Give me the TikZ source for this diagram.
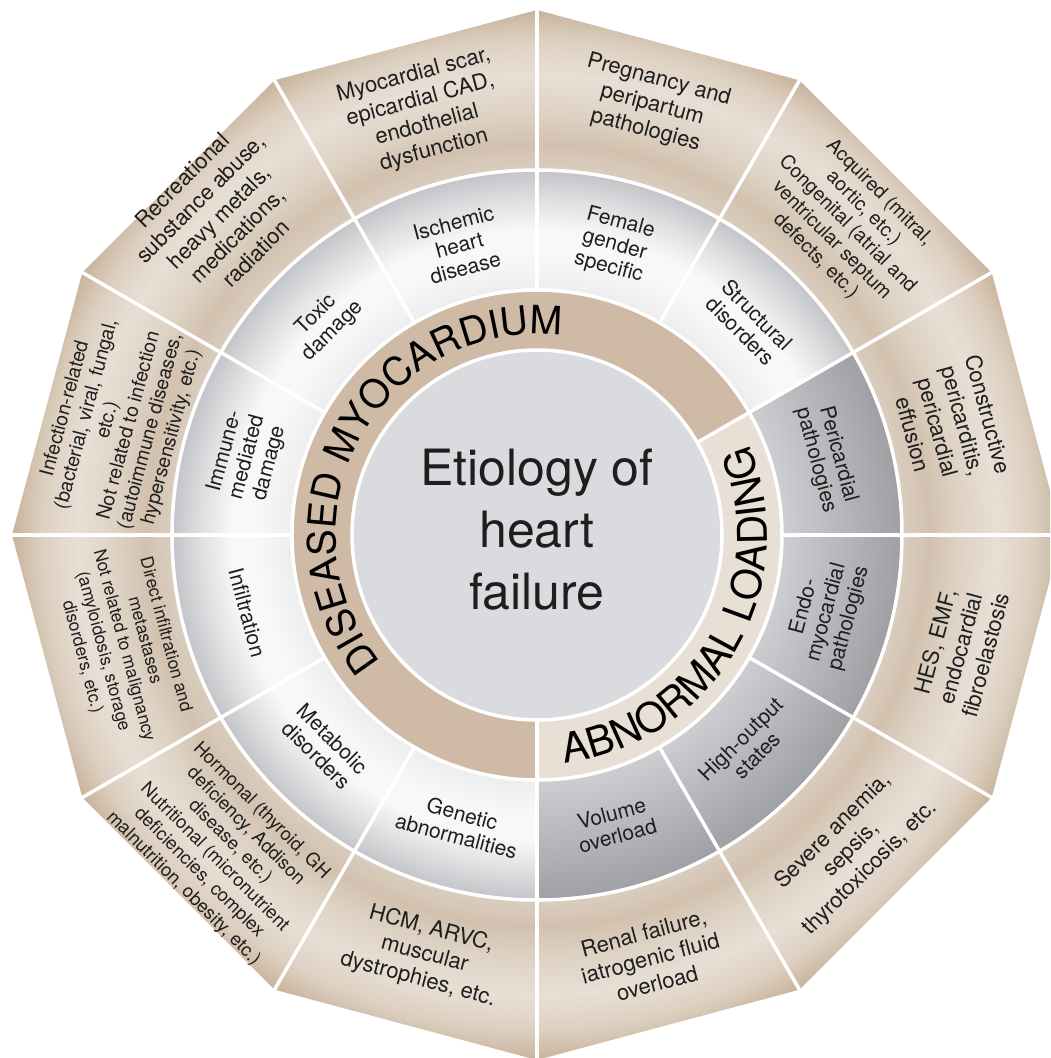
\documentclass[tikz,border=0pt]{standalone}
\usepackage{fontspec}
\setmainfont{TeX Gyre Heros}
\usepackage{tikz}
\usetikzlibrary{decorations.text}

\definecolor{ringdark}{HTML}{CEBAA5}
\definecolor{ringlight}{HTML}{E9E0D5}
\definecolor{coregray}{HTML}{DADBDE}
\definecolor{bandA}{HTML}{DACDBF}
\definecolor{bandB}{HTML}{D2C1AE}
\definecolor{bandC}{HTML}{DDD1C3}
\definecolor{bandD}{HTML}{E8DFD5}
\definecolor{bandE}{HTML}{DDD0C1}
\definecolor{bandF}{HTML}{C8B39C}
\definecolor{midA}{HTML}{EDEDEE}
\definecolor{midB}{HTML}{F8F8F8}
\definecolor{midC}{HTML}{DFE0E2}
\definecolor{midD}{HTML}{C3C4C7}
\definecolor{loadA}{HTML}{CDCED1}
\definecolor{loadB}{HTML}{9EA0A4}
\definecolor{ink}{HTML}{1E1E1E}

% radial shadings, radii in picture units (1pt = 1px)
\pgfdeclareradialshading{bandshade}{\pgfpoint{0pt}{0pt}}{color(0pt)=(bandA); color(366pt)=(bandA); color(392pt)=(bandB); color(420pt)=(bandC); color(460pt)=(bandD); color(495pt)=(bandE); color(525pt)=(bandF); color(560pt)=(bandF)}
\pgfdeclareradialshading{midshade}{\pgfpoint{0pt}{0pt}}{color(0pt)=(midA); color(245pt)=(midA); color(280pt)=(midB); color(305pt)=(midB); color(335pt)=(midC); color(365pt)=(midD); color(380pt)=(midD)}
\pgfdeclareradialshading{loadshade}{\pgfpoint{0pt}{0pt}}{color(0pt)=(loadA); color(245pt)=(loadA); color(365pt)=(loadB); color(380pt)=(loadB)}

\newcommand\ringfont{\fontsize{39}{39}\selectfont}
\newcommand\loadfont{\fontsize{41}{41}\selectfont}

\tikzset{
  sep/.style={white, line width=3.5pt},
  midlab/.style={align=center, inner sep=0pt, text=ink, font=\fontsize{21}{23}\selectfont},
  outlab/.style={align=center, inner sep=0pt, text=ink, font=\fontsize{22}{26}\selectfont},
}

\begin{document}
\begin{tikzpicture}[x=1pt, y=1pt]
\clip (-537,-523) rectangle (513,535);
% outer band
\begin{scope}
  \clip (0:525) \foreach \a in {30,60,...,330} { -- (\a:525) } -- cycle;
  \node[inner sep=0pt] (band) at (0,0) {\pgfuseshading{bandshade}};
\end{scope}
% middle ring
\begin{scope}
  \clip (0,0) circle (365);
  \node[inner sep=0pt] (mid) at (0,0) {\pgfuseshading{midshade}};
\end{scope}
\begin{scope}
  \clip (0,0) -- (-90:365) arc[start angle=-90, end angle=30, radius=365] -- cycle;
  \node[inner sep=0pt] (load) at (0,0) {\pgfuseshading{loadshade}};
\end{scope}
% tan ring and core
\fill[ringdark] (0,0) circle (245);
\fill[ringlight] (0,0) -- (-90:245) arc[start angle=-90, end angle=30, radius=245] -- cycle;
\fill[coregray] (0,0) circle (185);
% white separators
\foreach \r in {185,245,365} \draw[sep] (0,0) circle (\r);
\foreach \a in {0,30,...,330} \draw[sep] (\a:245) -- (\a:525);
\foreach \a in {30,270} \draw[sep] (\a:185) -- (\a:245);
% ring texts
\path[decorate, decoration={text along path, text align=center,
    text={|\ringfont|DISEASED MYOCARDIUM}}]
  (240:201) arc[start angle=240, end angle=62, radius=201];
\path[decorate, decoration={text along path, text align=center,
    text={|\loadfont|ABNORMAL LOADING}}]
  (-120:230) arc[start angle=-120, end angle=60, radius=230];
% centre
\node[align=center, inner sep=0pt, text=ink, font=\fontsize{50}{62}\selectfont] (etiology) at (0,5) {Etiology of\\heart\\failure};
% middle labels
\foreach \a/\n/\t in {105/ischemic/{Ischemic\\heart\\disease}, 75/female/{Female\\gender\\specific},
    45/structural/{Structural\\disorders}, 15/pericardial/{Pericardial\\pathologies},
    -15/endo/{Endo-\\myocardial\\pathologies}, -45/highout/{High-output\\states},
    -75/volume/{Volume\\overload}, -105/genetic/{Genetic\\abnormalities},
    -135/metabolic/{Metabolic\\disorders}, -165/infiltr/{Infiltration},
    165/immune/{Immune-\\mediated\\damage}, 135/toxic/{Toxic\\damage}} {
  \pgfmathsetmacro\rot{\a>0 ? \a-90 : \a+90}
  \node[midlab, rotate=\rot] (\n) at (\a:300) {\t};
};
% outer labels
\node[outlab, rotate=15] (scar) at (105:437) {Myocardial scar,\\epicardial CAD,\\endothelial\\dysfunction};
\node[outlab, rotate=-15] (pregnancy) at (75:445) {Pregnancy and\\peripartum\\pathologies};
\node[outlab, rotate=-45, font=\fontsize{19.5}{22.5}\selectfont] (acquired) at (45:439) {Acquired (mitral,\\aortic, etc.)\\Congenital (atrial and\\ventricular septum\\defects, etc.)};
\node[outlab, rotate=-75] (constructive) at (15:428) {Constructive\\pericarditis,\\pericardial\\effusion};
\node[outlab, rotate=75] (hes) at (-15:438) {HES, EMF,\\endocardial\\fibroelastosis};
\node[outlab, rotate=45] (anemia) at (-45:445) {Severe anemia,\\sepsis,\\thyrotoxicosis, etc.};
\node[outlab, rotate=15] (renal) at (-75:438) {Renal failure,\\iatrogenic fluid\\overload};
\node[outlab, rotate=-15] (hcm) at (-105:434) {HCM, ARVC,\\muscular\\dystrophies, etc.};
\node[outlab, rotate=-45, font=\fontsize{18.5}{22}\selectfont] (hormonal) at (-135:445) {Hormonal (thyroid, GH\\deficiency, Addison\\disease, etc.)\\Nutritional (micronutrient\\deficiencies, complex\\malnutrition, obesity, etc.)};
\node[outlab, rotate=-75, font=\fontsize{17.5}{21.5}\selectfont] (direct) at (-165:428) {Direct infiltration and\\metastases\\Not related to malignancy\\(amyloidosis, storage\\disorders, etc.)};
\node[outlab, rotate=75, font=\fontsize{19.5}{22}\selectfont] (infection) at (165:433) {Infection-related\\(bacterial, viral, fungal,\\etc.)\\Not related to infection\\(autoimmune diseases,\\hypersensitivity, etc.)};
\node[outlab, rotate=45] (recreational) at (135:450) {Recreational\\substance abuse,\\heavy metals,\\medications,\\radiation};
\end{tikzpicture}
\end{document}
